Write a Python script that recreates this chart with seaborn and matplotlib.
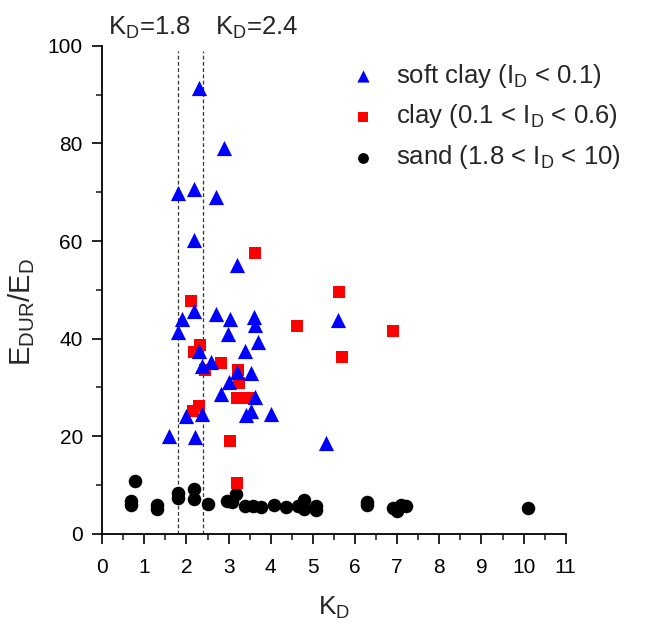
import numpy as np
import pandas as pd
import seaborn as sns
import matplotlib
matplotlib.use("Agg")
import matplotlib.pyplot as plt
from matplotlib.ticker import MultipleLocator

# soft clay (I_D < 0.1)
soft_kd = [2.29, 2.90, 1.80, 2.18, 2.71, 2.18, 3.21, 2.18, 1.90, 1.80, 2.71, 3.03,
           3.60, 3.63, 2.99, 5.60, 3.70, 3.40, 2.29, 2.59, 2.36, 3.21, 3.52, 3.01,
           2.81, 3.62, 2.00, 2.37, 3.42, 3.52, 4.01, 1.58, 2.20, 5.32]
soft_ratio = [91.4, 79.1, 69.9, 70.6, 69.1, 60.2, 55.1, 45.6, 44.1, 41.3, 45.1, 44.1,
              44.5, 42.7, 41.0, 43.9, 39.4, 37.5, 37.5, 35.3, 34.3, 33.1, 32.9, 31.2,
              28.7, 28.1, 24.2, 24.5, 24.4, 25.1, 24.6, 20.1, 19.9, 18.6]

# clay (0.1 < I_D < 0.6)
clay_kd = [3.62, 5.61, 2.10, 4.62, 6.90, 2.33, 2.18, 5.69, 2.83, 2.43, 3.22, 3.24,
           3.21, 3.48, 2.29, 2.15, 3.03, 3.21]
clay_ratio = [57.5, 49.6, 47.7, 42.5, 41.5, 38.7, 37.2, 36.3, 35.0, 33.5, 33.6, 31.0,
              27.8, 27.9, 26.2, 25.2, 19.1, 10.4]

# sand (1.8 < I_D < 10)
sand_kd = [0.77, 0.68, 0.68, 1.29, 1.29, 1.79, 1.79, 2.18, 2.18, 2.51, 2.97, 3.18,
           3.08, 3.40, 3.58, 3.78, 4.08, 4.35, 4.64, 4.79, 4.79, 5.08, 5.08, 6.29,
           6.29, 6.90, 6.99, 7.20, 7.10, 10.10]
sand_ratio = [10.9, 6.8, 5.9, 5.9, 5.1, 8.3, 7.3, 9.2, 7.2, 6.1, 6.8, 8.2,
              6.6, 5.6, 5.6, 5.4, 5.9, 5.4, 5.7, 7.0, 5.1, 5.6, 4.9, 6.5,
              5.9, 5.3, 4.6, 5.7, 6.0, 5.3]

kd_limits = [1.8, 2.4]

sns.set_style("ticks")
plt.rcParams['font.family'] = ['Liberation Sans', 'DejaVu Sans']
plt.rcParams['mathtext.fontset'] = 'custom'
plt.rcParams['mathtext.rm'] = 'Liberation Sans'
plt.rcParams['mathtext.it'] = 'Liberation Sans'

fig = plt.figure(figsize=(6.51, 6.28), dpi=100)
ax = fig.add_axes([0.157, 0.150, 0.712, 0.777])

for x in kd_limits:
    ax.axvline(x, ymin=0, ymax=0.99, color='#333333', ls=(0, (3, 2)), lw=0.9, zorder=1)

sns.scatterplot(x=sand_kd, y=sand_ratio, ax=ax, marker='o', s=95, color='black',
                linewidth=0, label=r'sand (1.8 < $\mathregular{I_D}$ < 10)', zorder=3)
sns.scatterplot(x=clay_kd, y=clay_ratio, ax=ax, marker='s', s=70, color='#ff0000',
                linewidth=0, label=r'clay (0.1 < $\mathregular{I_D}$ < 0.6)', zorder=3)
sns.scatterplot(x=soft_kd, y=soft_ratio, ax=ax, marker='^', s=120, color='#0000ff',
                linewidth=0, label=r'soft clay ($\mathregular{I_D}$ < 0.1)', zorder=3)

ax.set_xlim(0, 11)
ax.set_ylim(0, 100)
ax.xaxis.set_major_locator(MultipleLocator(1))
ax.xaxis.set_minor_locator(MultipleLocator(0.5))
ax.yaxis.set_major_locator(MultipleLocator(20))
ax.yaxis.set_minor_locator(MultipleLocator(10))
ax.tick_params(which='major', length=7.5, width=1.2, labelsize=15, colors='black')
ax.tick_params(which='minor', length=4, width=1.2)
ax.tick_params(axis='x', which='major', pad=10)
ax.tick_params(axis='y', which='major', pad=6.5)
sns.despine(ax=ax)
for side in ['left', 'bottom']:
    ax.spines[side].set_linewidth(1.3)
    ax.spines[side].set_color('black')

ax.set_xlabel(r'$\mathregular{K_D}$', fontsize=19, labelpad=13)
ax.set_ylabel(r'$\mathregular{E_{DUR}/E_D}$', fontsize=21)
ax.yaxis.set_label_coords(-0.14, 0.455)

ax.text(1.13, 102.3, r'$\mathregular{K_D}$=1.8', fontsize=18.5, ha='center', va='baseline', clip_on=False)
ax.text(3.67, 102.3, r'$\mathregular{K_D}$=2.4', fontsize=18.5, ha='center', va='baseline', clip_on=False)

handles, labels = ax.get_legend_handles_labels()
ax.legend(handles[::-1], labels[::-1], loc='upper left', bbox_to_anchor=(0.475, 1.015),
          frameon=False, fontsize=18.5, handletextpad=0.55, labelspacing=0.5,
          markerscale=0.8, handlelength=1.4)

fig.savefig('out.png', dpi=100)
